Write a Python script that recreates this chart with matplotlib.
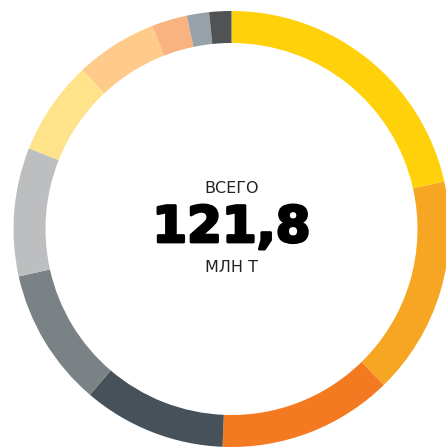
import matplotlib
matplotlib.use("Agg")
from matplotlib import pyplot as plt
from matplotlib import patheffects

# production shares, mln t (clockwise from the top)
values = [26.2, 19.7, 15.8, 12.9, 12.5, 11.6, 8.5, 7.4, 3.2, 2.0, 2.0]
colors = ["#FFD10A", "#F6A623", "#F47A22", "#465159", "#7A8286", "#BDBEC0",
          "#FFE38A", "#FFCB8A", "#F9B380", "#97A2A8", "#505254"]
total_label = "121,8"
top_label = "ВСЕГО"
unit_label = "МЛН Т"

W, H = 446, 448
CX, CY = 231.5, H - 229
R_OUT, RING = 218, 32

fig = plt.figure(figsize=(W / 100, H / 100), dpi=100)
ax = fig.add_axes([0, 0, 1, 1])

ax.pie(values, colors=colors, startangle=90, counterclock=False,
       radius=R_OUT, center=(CX, CY),
       wedgeprops=dict(width=RING, linewidth=0))

ax.set_xlim(0, W)
ax.set_ylim(0, H)
ax.set_aspect("equal")
ax.axis("off")

ax.text(CX, H - 188, top_label, ha="center", va="center",
        fontsize=11.5, family="DejaVu Sans", color="#222222")
# extra stroke makes the bold digits look heavier
ax.text(CX, H - 228, total_label, ha="center", va="center",
        fontsize=36, family="DejaVu Sans", fontweight="bold", color="#000000",
        path_effects=[patheffects.withStroke(linewidth=2, foreground="#000000")])
ax.text(CX, H - 267, unit_label, ha="center", va="center",
        fontsize=11.5, family="DejaVu Sans", color="#222222")

fig.savefig("out.png", dpi=100)
